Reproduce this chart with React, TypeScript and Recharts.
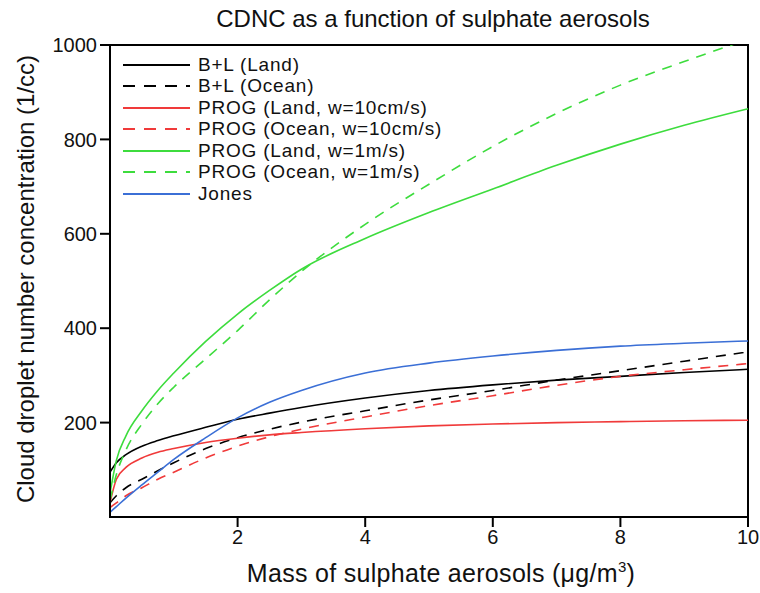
import React from 'react';
import { LineChart, Line, XAxis, YAxis, ReferenceArea } from 'recharts';

// sulphate mass (ug/m3)
const mass = [0, 0.1, 0.25, 0.5, 0.75, 1, 1.5, 2, 2.5, 3, 4, 5, 6, 7, 8, 9, 10];

const blLand = [95, 115, 132, 150, 162, 172, 190, 207, 220, 232, 252, 268, 280, 290, 298, 306, 313];
const blOcean = [30, 45, 62, 80, 98, 115, 145, 168, 186, 201, 225, 248, 268, 290, 310, 330, 350];
const progLand10 = [30, 80, 105, 125, 137, 145, 158, 167, 174, 179, 187, 193, 197, 200, 202, 204, 205];
const progOcean10 = [20, 30, 45, 62, 80, 95, 125, 150, 170, 186, 212, 236, 257, 279, 298, 312, 325];
const progLand1 = [50, 120, 172, 225, 268, 305, 372, 430, 480, 525, 590, 645, 695, 745, 790, 830, 865];
const progOcean1 = [35, 90, 142, 197, 240, 275, 335, 395, 460, 520, 620, 705, 785, 855, 915, 965, 1012];
const jones = [10, 22, 40, 68, 95, 122, 168, 210, 243, 268, 305, 326, 341, 353, 362, 368, 373];

const xTicks = [2, 4, 6, 8, 10];
const yTicks = [200, 400, 600, 800, 1000];

const series = [
  { key: 'blLand', name: 'B+L (Land)', color: '#000000', dash: undefined, values: blLand },
  { key: 'blOcean', name: 'B+L (Ocean)', color: '#000000', dash: '10 8', values: blOcean },
  { key: 'progLand10', name: 'PROG (Land, w=10cm/s)', color: '#f03a3a', dash: undefined, values: progLand10 },
  { key: 'progOcean10', name: 'PROG (Ocean, w=10cm/s)', color: '#f03a3a', dash: '10 8', values: progOcean10 },
  { key: 'progLand1', name: 'PROG (Land, w=1m/s)', color: '#3ddc3d', dash: undefined, values: progLand1 },
  { key: 'progOcean1', name: 'PROG (Ocean, w=1m/s)', color: '#3ddc3d', dash: '10 8', values: progOcean1 },
  { key: 'jones', name: 'Jones', color: '#3b6fd6', dash: undefined, values: jones },
];

const data = mass.map((m, i) => {
  const row: Record<string, number> = { mass: m };
  series.forEach(s => { row[s.key] = s.values[i]; });
  return row;
});

const font = '"Liberation Sans", Arial, sans-serif';

export default function App() {
  return (
    <div style={{ position: 'absolute', left: 0, top: 0, width: 760, height: 593, background: '#fff', fontFamily: font }}>
      <div style={{ position: 'absolute', left: 433, top: 19, transform: 'translate(-50%, -50%)', fontSize: 24, whiteSpace: 'nowrap', color: '#111' }}>
        CDNC as a function of sulphate aerosols
      </div>

      <LineChart width={760} height={593} data={data} margin={{ top: 45, right: 12, bottom: 16, left: 0 }}>
        <XAxis
          dataKey="mass"
          type="number"
          domain={[0, 10]}
          ticks={xTicks}
          height={60}
          tickSize={10}
          tickMargin={3}
          axisLine={{ stroke: '#000', strokeWidth: 2 }}
          tickLine={{ stroke: '#000', strokeWidth: 2 }}
          tick={{ fill: '#111', fontSize: 20, fontFamily: font }}
        />
        <YAxis
          type="number"
          domain={[0, 1000]}
          ticks={yTicks}
          allowDataOverflow
          width={110}
          tickSize={10}
          tickMargin={3}
          axisLine={{ stroke: '#000', strokeWidth: 2 }}
          tickLine={{ stroke: '#000', strokeWidth: 2 }}
          tick={{ fill: '#111', fontSize: 20, fontFamily: font }}
        />
        <ReferenceArea x1={0} x2={10} y1={0} y2={1000} fill="none" stroke="#000" strokeWidth={2} />
        {series.map(s => (
          <Line
            key={s.key}
            dataKey={s.key}
            name={s.name}
            type="monotone"
            stroke={s.color}
            strokeWidth={1.6}
            strokeDasharray={s.dash}
            dot={false}
            isAnimationActive={false}
          />
        ))}
      </LineChart>

      <div style={{ position: 'absolute', left: 26, top: 279, transform: 'translate(-50%, -50%) rotate(-90deg)', fontSize: 24, whiteSpace: 'nowrap', color: '#111' }}>
        Cloud droplet number concentration (1/cc)
      </div>
      <div style={{ position: 'absolute', left: 441, top: 573, transform: 'translate(-50%, -50%)', fontSize: 25, letterSpacing: 0.3, whiteSpace: 'nowrap', color: '#111' }}>
        Mass of sulphate aerosols (μg/m<sup style={{ fontSize: 15 }}>3</sup>)
      </div>

      <div style={{ position: 'absolute', left: 122, top: 54 }}>
        {series.map(s => (
          <div key={s.key} style={{ display: 'flex', alignItems: 'center', height: 21.5 }}>
            <svg width={70} height={6} style={{ marginRight: 6 }}>
              <line x1={1} y1={3} x2={68} y2={3} stroke={s.color} strokeWidth={1.8} strokeDasharray={s.dash ? '12 9' : undefined} />
            </svg>
            <span style={{ fontSize: 19, color: '#111', whiteSpace: 'nowrap', letterSpacing: 0.8 }}>{s.name}</span>
          </div>
        ))}
      </div>
    </div>
  );
}
